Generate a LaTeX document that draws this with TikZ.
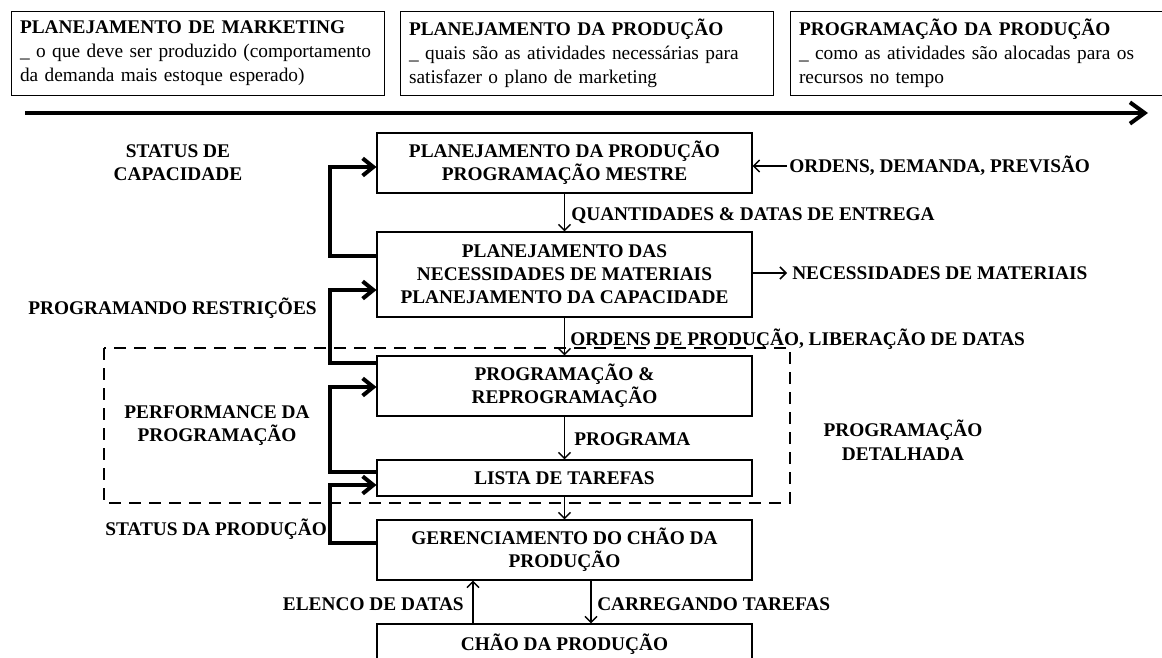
\documentclass[tikz,border=0pt]{standalone}
\usepackage{fontspec}
\setmainfont{Liberation Serif}
\usetikzlibrary{arrows.meta}
\begin{document}
\begin{tikzpicture}[x=0.75pt,y=-0.75pt,
  lbl/.style={font=\bfseries\fontsize{14.5}{17.25}\selectfont, inner sep=0pt},
  mbox/.style={draw, line width=0.8pt, minimum width=281.25pt, align=center, font=\bfseries\fontsize{14.5}{17.25}\selectfont, inner sep=0pt},
  tbox/.style={draw, line width=0.8pt, minimum height=63pt, text width=267pt, inner xsep=6.375pt, inner ysep=0pt, align=left, font=\fontsize{14.5}{18}\selectfont, anchor=north west},
  thinarr/.style={line width=1.1pt, -{Straight Barb[length=4.5pt,width=9pt]}},
  fb/.style={line width=3pt, -{Straight Barb[length=8pt,width=13pt]}},
]
\useasboundingbox (0,0) rectangle (1162,657);
\clip (0,0) rectangle (1162,657);

% top boxes
\node[tbox] (mk) at (11,11) {\textbf{PLANEJAMENTO DE MARKETING}\\\makebox[267pt][s]{\_ o que deve ser produzido (comportamento}\\da demanda mais estoque esperado)};
\node[tbox] (pl) at (400,11) {\textbf{PLANEJAMENTO DA PRODUÇÃO}\\\makebox[267pt][s]{\_ quais são as atividades necessárias para}\\satisfazer o plano de marketing};
\node[tbox] (pg) at (790,11) {\textbf{PROGRAMAÇÃO DA PRODUÇÃO}\\\makebox[267pt][s]{\_ como as atividades são alocadas para os}\\recursos no tempo};

% timeline
\coordinate (t0) at (25,113);
\coordinate (t1) at (1148,113);
\draw[line width=3pt, -{Straight Barb[length=11pt,width=16pt]}] (t0) -- (t1);

% dashed region
\draw[line width=2.2pt, dash pattern=on 9pt off 6pt] (104,348) rectangle (790,503);

% main boxes
\node[mbox, minimum height=45pt] (b1) at (564.5,163) {PLANEJAMENTO DA PRODUÇÃO\\PROGRAMAÇÃO MESTRE};
\node[mbox, minimum height=63.75pt] (b2) at (564.5,274.5) {PLANEJAMENTO DAS\\NECESSIDADES DE MATERIAIS\\PLANEJAMENTO DA CAPACIDADE};
\node[mbox, minimum height=45pt] (b3) at (564.5,386) {PROGRAMAÇÃO \&\\REPROGRAMAÇÃO};
\node[mbox, minimum height=27pt] (b4) at (564.5,478) {LISTA DE TAREFAS};
\node[mbox, minimum height=45pt] (b5) at (564.5,550) {GERENCIAMENTO DO CHÃO DA\\PRODUÇÃO};
\node[mbox, minimum height=30pt] (b6) at (564.5,644) {CHÃO DA PRODUÇÃO};

% vertical arrows
\draw[thinarr] (b1) -- (b2);
\draw[thinarr] (b2) -- (b3);
\draw[thinarr] (b3) -- (b4);
\draw[thinarr] (b4) -- (b5);
\coordinate (e1) at (473,600);
\coordinate (e2) at (591,600);
\draw[thinarr] (b6.north -| e1) -- (b5.south -| e1);
\draw[thinarr] (b5.south -| e2) -- (b6.north -| e2);

% arrow labels
\node[lbl, anchor=west] (q) at (571,216) {QUANTIDADES \& DATAS DE ENTREGA};
\node[lbl, anchor=west] (od) at (570,339) {ORDENS DE PRODUÇÃO, LIBERAÇÃO DE DATAS};
\node[lbl, anchor=west] (pa) at (574,439) {PROGRAMA};
\node[lbl, anchor=east] (el) at (464,604) {ELENCO DE DATAS};
\node[lbl, anchor=west] (ct) at (597,604) {CARREGANDO TAREFAS};

% right side
\coordinate (o1) at (787,166);
\draw[thinarr] (o1) -- (b1.east |- o1);
\node[lbl, anchor=west] (odp) at (789,166) {ORDENS, DEMANDA, PREVISÃO};
\coordinate (n1) at (787,273);
\draw[thinarr] (b2.east |- n1) -- (n1);
\node[lbl, anchor=west] (nm) at (792,273) {NECESSIDADES DE MATERIAIS};

% feedback loops
\coordinate (f1a) at (330,256); \coordinate (f1b) at (330,167);
\coordinate (f2a) at (330,363); \coordinate (f2b) at (330,290);
\coordinate (f3a) at (330,472); \coordinate (f3b) at (330,387);
\coordinate (f4a) at (330,543); \coordinate (f4b) at (330,485);
\draw[fb] (b2.west |- f1a) -- (f1a) -- (f1b) -- (b1.west |- f1b);
\draw[fb] (b3.west |- f2a) -- (f2a) -- (f2b) -- (b2.west |- f2b);
\draw[fb] (b4.west |- f3a) -- (f3a) -- (f3b) -- (b3.west |- f3b);
\draw[fb] (b5.west |- f4a) -- (f4a) -- (f4b) -- (b4.west |- f4b);

% left/right labels
\node[lbl, align=center] (sc) at (178,163) {STATUS DE\\CAPACIDADE};
\node[lbl, anchor=west] (pr) at (28,308) {PROGRAMANDO RESTRIÇÕES};
\node[lbl, align=center] (pp) at (217,426) {PERFORMANCE DA\\PROGRAMAÇÃO};
\node[lbl, anchor=west] (sp) at (105,529) {STATUS DA PRODUÇÃO};
\node[lbl, align=center, font=\bfseries\fontsize{14.5}{18}\selectfont] (pd) at (903,440) {PROGRAMAÇÃO\\DETALHADA};
\end{tikzpicture}
\end{document}
